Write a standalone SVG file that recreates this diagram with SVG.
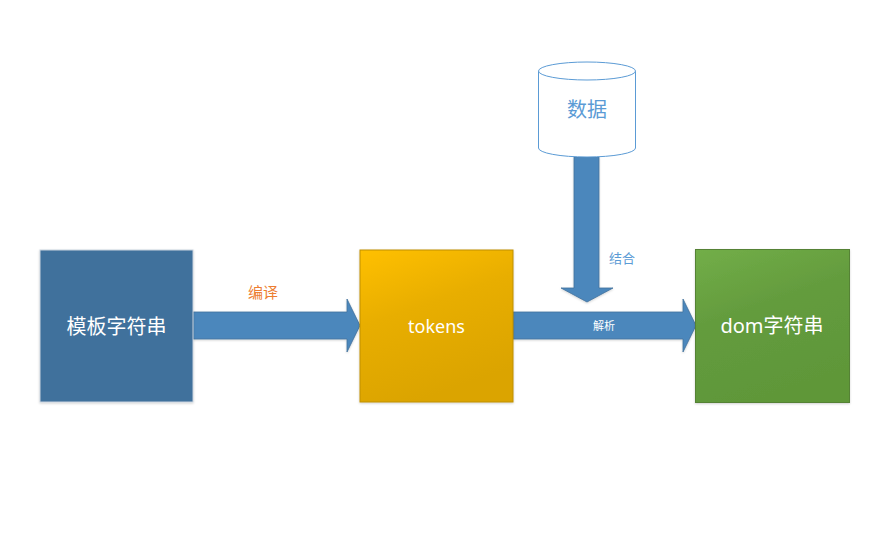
<svg xmlns="http://www.w3.org/2000/svg" width="892" height="536" viewBox="0 0 892 536">
<defs>
<linearGradient id="gy" x1="0" y1="0" x2="0.35" y2="1">
<stop offset="0" stop-color="#FFC000"/><stop offset="0.45" stop-color="#E8AE00"/><stop offset="1" stop-color="#DBA400"/>
</linearGradient>
<linearGradient id="gg" x1="0" y1="0" x2="0.35" y2="1">
<stop offset="0" stop-color="#72AE48"/><stop offset="0.45" stop-color="#649C3E"/><stop offset="1" stop-color="#5F9739"/>
</linearGradient>
<filter id="sh" x="-10%" y="-10%" width="120%" height="120%">
<feDropShadow dx="0" dy="1" stdDeviation="1" flood-color="#000" flood-opacity="0.18"/>
</filter>
</defs>
<style>
.t{font-family:"Noto Sans","Noto Sans CJK SC",sans-serif;text-anchor:middle;dominant-baseline:central}
.w{fill:#fff}
.arrow{fill:#4C87BC;stroke:#41719C;stroke-width:0.8}
</style>
<rect width="892" height="536" fill="#fff"/>
<g id="connectors">
<g id="arrow-compile">
<polygon class="arrow" filter="url(#sh)" points="193,312 347,312 347,299 360,325.5 347,352 347,339 193,339"/>
<text class="t" x="263" y="292" font-size="15" fill="#ED7D31">编译</text>
</g>
<g id="arrow-parse">
<polygon class="arrow" filter="url(#sh)" points="513,312 683,312 683,299 696,325.5 683,352 683,339 513,339"/>
<text class="t w" x="604" y="325" font-size="11">解析</text>
</g>
<g id="arrow-combine">
<polygon class="arrow" filter="url(#sh)" points="574,157 599,157 599,288 613,288 587,302 561,288 574,288"/>
<text class="t" x="622" y="258" font-size="13" fill="#5B9BD5">结合</text>
</g>
</g>
<g id="node-template">
<rect x="40" y="250" width="153" height="152" fill="#41719C" stroke="#C9D3DE" stroke-width="1" filter="url(#sh)"/>
<text class="t w" x="116.5" y="326" font-size="20">模板字符串</text>
</g>
<g id="node-tokens">
<rect x="360" y="250" width="153" height="152" fill="url(#gy)" stroke="#BF9000" stroke-width="1" filter="url(#sh)"/>
<text class="t w" x="436.5" y="326" font-size="18">tokens</text>
</g>
<g id="node-dom">
<rect x="695.5" y="249.5" width="154" height="153" fill="url(#gg)" stroke="#548235" stroke-width="1" filter="url(#sh)"/>
<text class="t w" x="772" y="325" font-size="20">dom字符串</text>
</g>
<g id="node-data">
<path d="M538.5,71 L538.5,148 A48.5,9 0 0 0 635.5,148 L635.5,71" fill="#fff" stroke="#5B9BD5" stroke-width="1"/>
<ellipse cx="587" cy="71" rx="48.5" ry="9" fill="#fff" stroke="#5B9BD5" stroke-width="1"/>
<text class="t" x="587" y="109" font-size="20" fill="#5B9BD5">数据</text>
</g>
</svg>
